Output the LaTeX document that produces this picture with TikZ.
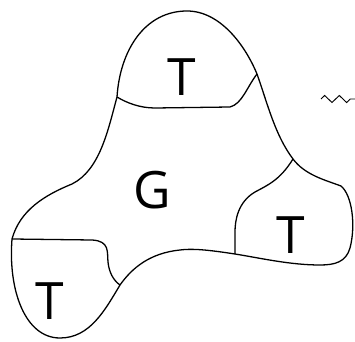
\documentclass[tikz,border=0pt]{standalone}
\usepackage{fontspec}
\setsansfont{Open Sans}
\usetikzlibrary{arrows.meta, decorations.pathmorphing}

\begin{document}
\begin{tikzpicture}[
      x=0.03cm, y=-0.03cm,
      outline/.style={line width=1.1pt, line join=round},
      label/.style={font=\sffamily\fontsize{44}{48}\selectfont, inner sep=0pt},
      >=To
    ]
      \clip (0,0) rectangle (355,342);

      % junctions where the dividers meet the outline
      \coordinate (tl) at (117,97);
      \coordinate (tr) at (257,74);
      \coordinate (rt) at (293,159);
      \coordinate (rb) at (235,254);
      \coordinate (lt) at (12,239);
      \coordinate (lb) at (120,285);

      % outline
      \draw[outline] (tl) .. controls (120,50) and (145,11) .. (187,11)
        .. controls (220,11) and (245,45) .. (tr)
        .. controls (268,105) and (275,135) .. (rt)
        .. controls (305,175) and (325,180) .. (341,186)
        .. controls (352,195) and (356,225) .. (350,248)
        .. controls (346,262) and (335,265) .. (320,265)
        .. controls (290,265) and (260,258) .. (rb)
        .. controls (215,251) and (195,248) .. (180,250)
        .. controls (150,253) and (132,268) .. (lb)
        .. controls (105,310) and (90,338) .. (60,338)
        .. controls (25,338) and (8,290) .. (lt)
        .. controls (20,210) and (45,195) .. (72,184)
        .. controls (100,170) and (108,130) .. (tl) -- cycle;

      % dividers
      \draw[outline] (tl) .. controls (127,103) and (140,108) .. (155,108)
        -- (230,107) .. controls (242,104) and (247,87) .. (tr);
      \draw[outline] (rt) .. controls (280,180) and (268,185) .. (255,192)
        .. controls (238,202) and (235,220) .. (235,232) -- (rb);
      \draw[outline] (lt) -- (92,240) .. controls (110,241) and (107,252) .. (108,262)
        .. controls (109,272) and (113,280) .. (lb);

      % labels
      \node[label] (tt) at (182,77) {T};
      \node[label] (g) at (152,190) {G};
      \node[label] (rtt) at (291,235) {T};
      \node[label] (bt) at (50,301) {T};

      % arrow leaving the picture
      \coordinate (s0) at (321,99);
      \coordinate (s1) at (362,99);
      \draw[line width=0.8pt, ->, decorate,
        decoration={zigzag, amplitude=3pt, segment length=12.5pt, post length=9pt}]
        (s0) -- (s1);
    \end{tikzpicture}
\end{document}
